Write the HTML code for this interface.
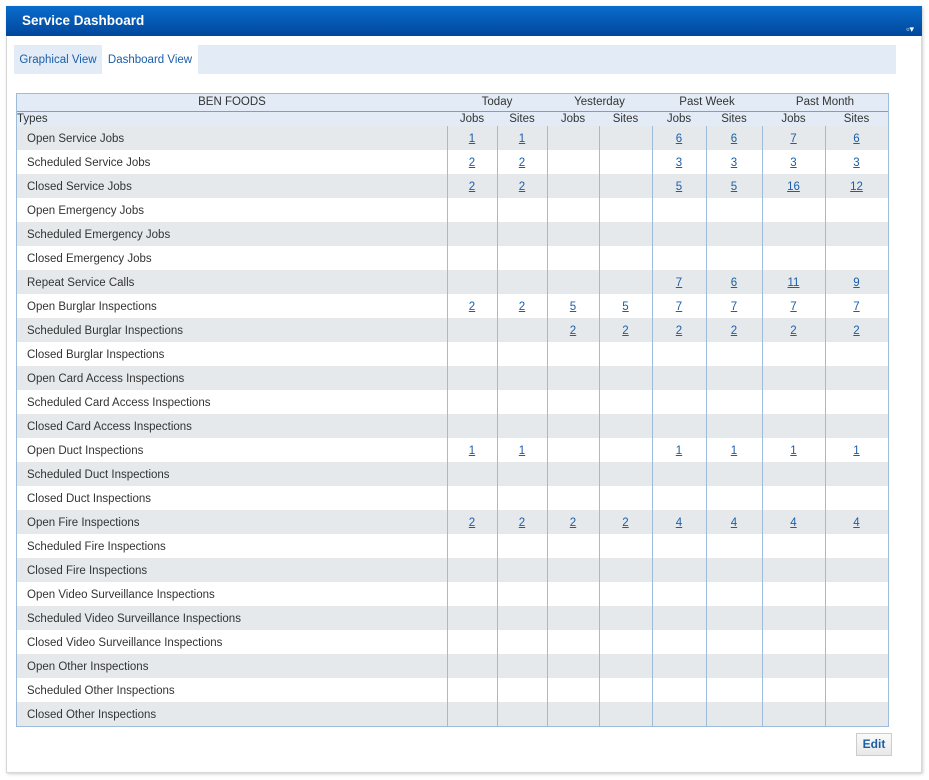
<!DOCTYPE html>
<html><head><style>
*{margin:0;padding:0;box-sizing:border-box}
body{width:929px;height:780px;background:#fff;font-family:"Liberation Sans",sans-serif;font-size:11.5px;color:#333;position:relative;overflow:hidden}
.panel{position:absolute;left:6px;top:6px;width:916px;height:767px;border:1px solid #d8d8d8;box-shadow:1px 1px 3px #ccc;background:#fff}
.hdr{position:absolute;left:6px;top:6px;width:916px;height:30px;background:linear-gradient(#0a6ccc,#00479b);color:#fff;font-weight:bold;font-size:13.5px;line-height:30px;padding-left:16px}
.hdr .ic{position:absolute;right:8px;top:8px;font-size:9px;font-weight:normal}
.tabs{position:absolute;left:14px;top:45px;width:882px;height:29px;background:#e3ecf6}
.tab{position:absolute;top:0;height:29px;line-height:31px;font-size:11.5px;color:#1a5ea8}
.t{position:absolute;left:16px;top:93px;width:873px;height:634px;border:1px solid #9dbcdc}
.row{position:absolute;left:0;width:871px;height:24px;line-height:26px}
.g{background:#e6e9ec}
.lbl{position:absolute;left:10px}
.vl{position:absolute;top:32px;width:1px;height:600px;background:#9dbcdc}
.c{position:absolute;text-align:center;color:#1a5ea8;text-decoration:underline;font-size:11.5px}
.h{position:absolute;text-align:center;font-size:11.5px}
</style></head><body>
<div class="panel"></div>
<div class="hdr">Service Dashboard<span class="ic">▫▾</span></div>
<div class="tabs">
<div class="tab" style="left:0;width:88px;text-align:center">Graphical View</div>
<div class="tab" style="left:88px;width:96px;background:#fff;text-align:center">Dashboard View</div>
</div>
<div class="t">
<div style="position:absolute;left:0;top:0;width:871px;height:32px;background:#e3ecf6"></div>
<div style="position:absolute;left:0;top:17px;width:871px;height:1px;background:#999"></div>
<div class="h" style="left:0;width:430px;top:0;line-height:17px">BEN FOODS</div>
<div class="h" style="left:430px;width:100px;top:0;line-height:17px">Today</div>
<div class="h" style="left:530px;width:105px;top:0;line-height:17px">Yesterday</div>
<div class="h" style="left:635px;width:110px;top:0;line-height:17px">Past Week</div>
<div class="h" style="left:745px;width:126px;top:0;line-height:17px">Past Month</div>
<div class="h" style="left:0;top:18px;line-height:14px">Types</div>
<div id="body"></div>
</div>
<div style="position:absolute;left:856px;top:733px;width:36px;height:23px;border:1px solid #ccc;background:linear-gradient(#fafafa,#e8e8e8);color:#1a5ea8;font-weight:bold;font-size:12px;text-align:center;line-height:21px">Edit</div>
<script>
var labels=["Open Service Jobs","Scheduled Service Jobs","Closed Service Jobs","Open Emergency Jobs","Scheduled Emergency Jobs","Closed Emergency Jobs","Repeat Service Calls","Open Burglar Inspections","Scheduled Burglar Inspections","Closed Burglar Inspections","Open Card Access Inspections","Scheduled Card Access Inspections","Closed Card Access Inspections","Open Duct Inspections","Scheduled Duct Inspections","Closed Duct Inspections","Open Fire Inspections","Scheduled Fire Inspections","Closed Fire Inspections","Open Video Surveillance Inspections","Scheduled Video Surveillance Inspections","Closed Video Surveillance Inspections","Open Other Inspections","Scheduled Other Inspections","Closed Other Inspections"];
var data={0:[1,1,"","",6,6,7,6],1:[2,2,"","",3,3,3,3],2:[2,2,"","",5,5,16,12],6:["","","","",7,6,11,9],7:[2,2,5,5,7,7,7,7],8:["","",2,2,2,2,2,2],13:[1,1,"","",1,1,1,1],16:[2,2,2,2,4,4,4,4]};
var b=[430,480,530,582,635,689,745,808,871];
var subs=["Jobs","Sites","Jobs","Sites","Jobs","Sites","Jobs","Sites"];
var h="";
for(var i=0;i<8;i++)h+='<div class="h" style="left:'+b[i]+'px;width:'+(b[i+1]-b[i])+'px;top:18px;line-height:14px">'+subs[i]+'</div>';
for(var r=0;r<25;r++){
 h+='<div class="row'+(r%2==0?' g':'')+'" style="top:'+(32+r*24)+'px"><span class="lbl">'+labels[r]+'</span>';
 var d=data[r];
 if(d)for(var i=0;i<8;i++)if(d[i]!=="")h+='<span class="c" style="left:'+b[i]+'px;width:'+(b[i+1]-b[i])+'px">'+d[i]+'</span>';
 h+='</div>';
}
for(var i=0;i<8;i++)h+='<div class="vl" style="left:'+b[i]+'px"></div>';
document.getElementById("body").innerHTML=h;
</script>
</body></html>
